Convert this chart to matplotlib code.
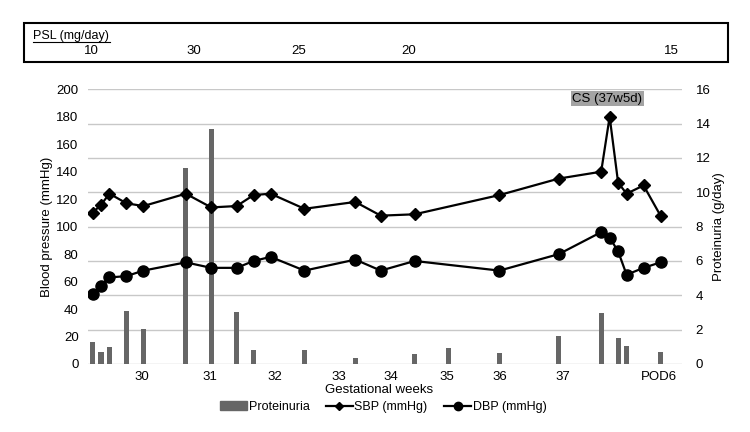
import matplotlib.pyplot as plt
from matplotlib.lines import Line2D
from matplotlib.patches import Patch, Rectangle

plt.rcParams["font.family"] = ["Liberation Sans", "DejaVu Sans"]
plt.rcParams["font.size"] = 9.5

# days counted from the first measurement (29w1d)
bp_days = [0, 1, 2, 4, 6, 11, 14, 17, 19, 21, 25, 31, 34, 38, 48, 55, 60, 61, 62, 63, 65, 67]
sbp = [110, 116, 124, 117, 115, 124, 114, 115, 123, 124, 113, 118, 108, 109, 123, 135, 140, 180, 132, 124, 130, 108]
dbp = [51, 57, 63, 64, 68, 74, 70, 70, 75, 78, 68, 76, 68, 75, 68, 80, 96, 92, 82, 65, 70, 74]

prot_days = [0, 1, 2, 4, 6, 11, 14, 17, 19, 25, 31, 38, 42, 48, 55, 60, 62, 63, 67]
prot = [1.26, 0.72, 1.01, 3.10, 2.06, 11.40, 13.67, 3.05, 0.82, 0.82, 0.33, 0.56, 0.95, 0.66, 1.63, 2.95, 1.53, 1.07, 0.68]

week_pos = [5.8, 13.9, 21.5, 29.1, 35.2, 41.8, 48.0, 55.5, 66.8]
week_labels = ["30", "31", "32", "33", "34", "35", "36", "37", "POD6"]

# PSL dose text (figure x in pixels, dose)
psl_x = [91.7, 194, 298.4, 408.2, 671.7]
psl_dose = ["10", "30", "25", "20", "15"]

W, H = 750, 432
fig = plt.figure(figsize=(W / 100, H / 100), dpi=100)
ax = fig.add_axes([88.3 / W, 1 - 364 / H, 593.4 / W, 274.7 / H])
ax2 = ax.twinx()

# bars + grid behind, lines in front
ax2.bar(prot_days, prot, width=0.6, color="#666666", label="Proteinuria")
ax2.set_ylim(0, 16)
ax2.set_yticks(range(0, 17, 2))
ax2.grid(axis="y", color="#c8c8c8", linewidth=1)
ax2.set_axisbelow(True)

ax.set_zorder(ax2.get_zorder() + 1)
ax.patch.set_visible(False)
ax.plot(bp_days, sbp, color="black", lw=1.6, marker="D", ms=6.5, label="SBP (mmHg)")
ax.plot(bp_days, dbp, color="black", lw=1.6, marker="o", ms=8, label="DBP (mmHg)")
ax.set_ylim(0, 200)
ax.set_yticks(range(0, 201, 20))
ax.set_xlim(-0.5, 69.5)
ax.set_xticks(week_pos)
ax.set_xticklabels(week_labels)

for a in (ax, ax2):
    for s in a.spines.values():
        s.set_visible(False)
ax.tick_params(axis="y", length=0, pad=7)
ax.tick_params(axis="x", length=0, pad=5)
ax2.tick_params(axis="y", length=0, pad=10)

ax.set_ylabel("Blood pressure (mmHg)", fontsize=9.5)
ax.yaxis.set_label_coords(-0.06, 0.5)
ax2.set_ylabel("Proteinuria (g/day)", fontsize=9.5)
ax2.yaxis.set_label_coords(1.052, 0.5)
ax.set_xlabel("Gestational weeks", fontsize=9.5)
ax.xaxis.set_label_coords(0.49, -0.095)
ax.xaxis.label.set_va("center")

ax.text(60.7, 193, "CS (37w5d)", ha="center", va="center", fontsize=9.5,
        bbox=dict(facecolor="#a3a3a3", edgecolor="none", pad=1.0))

# PSL box
fig.patches.append(Rectangle((24 / W, 1 - 61.7 / H), 703.7 / W, 38.4 / H,
                             transform=fig.transFigure, fill=False,
                             edgecolor="black", linewidth=1.5))
fig.text(33 / W, 1 - 36 / H, "PSL (mg/day)", ha="left", va="center", fontsize=9)
fig.lines.append(Line2D([33 / W, 110 / W], [1 - 42.3 / H] * 2,
                        transform=fig.transFigure, color="black", lw=0.8))
for x, d in zip(psl_x, psl_dose):
    fig.text(x / W, 1 - 50.5 / H, d, ha="center", va="center", fontsize=9.5)

handles = [Patch(color="#666666", label="Proteinuria"),
           Line2D([], [], color="black", lw=1.6, marker="D", ms=4.5, label="SBP (mmHg)"),
           Line2D([], [], color="black", lw=1.6, marker="o", ms=6, label="DBP (mmHg)")]
fig.legend(handles=handles, loc="center", bbox_to_anchor=(383 / W, 1 - 407 / H),
           ncol=3, frameon=False, fontsize=9, handlelength=2.2,
           handletextpad=0.1, columnspacing=1.3)

fig.savefig("out.png", dpi=100)
